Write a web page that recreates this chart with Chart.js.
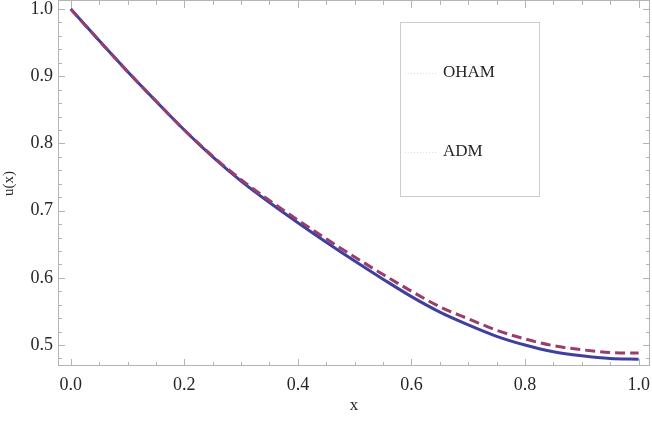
<!DOCTYPE html>
<html>
<head>
<meta charset="utf-8">
<script src="https://cdn.jsdelivr.net/npm/chart.js@4"></script>
<style>
    html, body { margin: 0; padding: 0; background: #fff; }
    #wrap { width: 652px; height: 422px; }
</style>
</head>
<body>
<div id="wrap"><canvas id="uChart"></canvas></div>
<script>
/* Data */
var xValues = [0, 0.05, 0.10, 0.15, 0.20, 0.25, 0.30, 0.35, 0.40, 0.45, 0.50,
               0.55, 0.60, 0.65, 0.70, 0.75, 0.80, 0.85, 0.90, 0.95, 1.00];
var ohamValues = [1.000, 0.953, 0.907, 0.863, 0.820, 0.780, 0.744, 0.712, 0.682, 0.653, 0.625,
                  0.598, 0.572, 0.549, 0.530, 0.513, 0.500, 0.490, 0.484, 0.480, 0.479];
var admValues = [1.000, 0.953, 0.907, 0.863, 0.820, 0.781, 0.746, 0.715, 0.686, 0.658, 0.631,
                 0.605, 0.580, 0.557, 0.539, 0.522, 0.509, 0.499, 0.493, 0.489, 0.488];
var seriesNames = ['OHAM', 'ADM'];
var xTicks = [0, 0.2, 0.4, 0.6, 0.8, 1.0];
var yTicks = [0.5, 0.6, 0.7, 0.8, 0.9, 1.0];

/* Colors */
var blue_color = '#3f3f9e';
var purple_color = '#993d70';
var frame_color = '#b4b4b4';
var text_color = '#262626';

function toPoints(ys) {
    return xValues.map(function(x, i) { return { x: x, y: ys[i] }; });
}

/* Frame with inward ticks on all four sides + legend box */
var framePlugin = {
    id: 'frame',
    afterDraw: function(chart) {
        var ctx = chart.ctx;
        var a = chart.chartArea;
        var xs = chart.scales.x;
        var ys = chart.scales.y;
        ctx.save();
        ctx.strokeStyle = frame_color;
        ctx.lineWidth = 1;
        ctx.strokeRect(a.left + 0.5, a.top - 0.5, a.right - a.left - 1, a.bottom - a.top);

        ctx.beginPath();
        // x ticks every 0.05, long ones on labelled values
        for (var i = 0; i <= 20; i++) {
            var v = i * 0.05;
            var px = Math.round(xs.getPixelForValue(v)) + 0.5;
            var len = (i % 4 === 0) ? 7 : 4;
            ctx.moveTo(px, a.bottom); ctx.lineTo(px, a.bottom - len);
            ctx.moveTo(px, a.top); ctx.lineTo(px, a.top + len);
        }
        // y ticks every 0.02
        for (var j = 24; j <= 50; j++) {
            var w = j * 0.02;
            var py = Math.round(ys.getPixelForValue(w)) + 0.5;
            var ylen = (j % 5 === 0) ? 7 : 4;
            ctx.moveTo(a.left, py); ctx.lineTo(a.left + ylen, py);
            ctx.moveTo(a.right, py); ctx.lineTo(a.right - ylen, py);
        }
        ctx.stroke();

        // legend box
        ctx.fillStyle = '#ffffff';
        ctx.fillRect(400, 22, 139, 174);
        ctx.strokeStyle = '#cccccc';
        ctx.strokeRect(400.5, 22.5, 139, 174);
        ctx.font = '17px "Liberation Serif"';
        ctx.textBaseline = 'middle';
        ctx.fillStyle = text_color;
        var rows = [73, 152];
        seriesNames.forEach(function(name, k) {
            ctx.strokeStyle = '#dddddd';
            ctx.setLineDash([1, 2]);
            ctx.beginPath();
            ctx.moveTo(405, rows[k] + 0.5);
            ctx.lineTo(437, rows[k] + 0.5);
            ctx.stroke();
            ctx.setLineDash([]);
            ctx.fillText(name, 443, rows[k]);
        });
        ctx.restore();
    }
};

Chart.defaults.font.family = '"Liberation Serif", serif';
Chart.defaults.color = text_color;

var chart = new Chart(document.getElementById('uChart'), {
    type: 'scatter',
    data: {
        datasets: [{
            label: seriesNames[0],
            data: toPoints(ohamValues),
            showLine: true,
            borderColor: blue_color,
            borderWidth: 3,
            pointRadius: 0,
            cubicInterpolationMode: 'monotone',
            order: 1
        }, {
            label: seriesNames[1],
            data: toPoints(admValues),
            showLine: true,
            borderColor: purple_color,
            borderWidth: 3,
            borderDash: [10, 5],
            pointRadius: 0,
            cubicInterpolationMode: 'monotone',
            order: 0
        }]
    },
    options: {
        responsive: true,
        maintainAspectRatio: false,
        animation: false,
        layout: { padding: { top: 1, right: 2, left: 0, bottom: 0 } },
        plugins: {
            legend: { display: false },
            tooltip: { enabled: false }
        },
        scales: {
            x: {
                type: 'linear',
                min: -0.0224,
                max: 1.02,
                afterBuildTicks: function(scale) {
                    scale.ticks = xTicks.map(function(v) { return { value: v }; });
                },
                afterFit: function(scale) {
                    scale.height = 56;
                    scale.paddingLeft = 0;
                    scale.paddingRight = 0;
                },
                grid: { display: false, drawTicks: false },
                border: { display: false },
                ticks: {
                    padding: 8,
                    maxRotation: 0,
                    font: { size: 18 },
                    callback: function(v) { return v.toFixed(1); }
                },
                title: {
                    display: true,
                    text: 'x',
                    font: { size: 17 },
                    padding: { top: 6, bottom: 6 }
                }
            },
            y: {
                type: 'linear',
                min: 0.4688,
                max: 1.0119,
                afterBuildTicks: function(scale) {
                    scale.ticks = yTicks.map(function(v) { return { value: v }; });
                },
                afterFit: function(scale) {
                    scale.width = 58;
                    scale.paddingTop = 0;
                    scale.paddingBottom = 0;
                },
                grid: { display: false, drawTicks: false },
                border: { display: false },
                ticks: {
                    padding: 5,
                    font: { size: 18 },
                    callback: function(v) { return v.toFixed(1); }
                },
                title: {
                    display: true,
                    text: 'u(x)',
                    font: { size: 15 },
                    padding: { top: 0, bottom: 0 }
                }
            }
        }
    },
    plugins: [framePlugin]
});
</script>
</body>
</html>
